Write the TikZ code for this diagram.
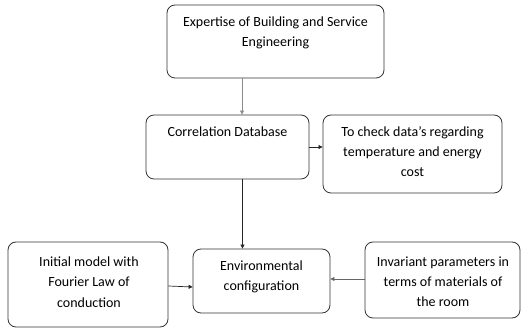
\documentclass[tikz,border=0pt]{standalone}
\usepackage{fontspec}
\setmainfont{Carlito}
\usetikzlibrary{arrows.meta}
\tikzset{
  box/.style={draw=black!80, line width=0.8pt, rounded corners=8pt, inner sep=0pt},
  txt/.style={align=center, anchor=north, inner sep=0pt, font=\fontsize{14}{20.3}\selectfont},
  conn/.style={draw=black!85, line width=0.7pt, -{Triangle[length=4pt,width=4pt]}},
}
\begin{document}
\begin{tikzpicture}[x=1pt,y=-1pt]
\useasboundingbox (0,0) rectangle (522,328);
% boxes
\node[box, minimum width=217pt, minimum height=73pt] (b1) at (275.5,41.5) {};
\node[box, minimum width=163pt, minimum height=64pt] (b2) at (227.5,147) {};
\node[box, minimum width=179pt, minimum height=78pt] (b3) at (412.5,154) {};
\node[box, minimum width=160pt, minimum height=85pt] (b4) at (88,284.5) {};
\node[box, minimum width=137pt, minimum height=64pt] (b5) at (261.5,281) {};
\node[box, minimum width=155pt, minimum height=76pt] (b6) at (442.5,280) {};
% texts
\node[txt] (t1) at (275.5,16.5) {Expertise of Building and Service\\Engineering};
\node[txt] (t2) at (227.5,126.5) {Correlation Database};
\node[txt] (t3) at (412.5,126) {To check data's regarding\\temperature and energy\\cost};
\node[txt] (t4) at (89,256.5) {Initial model with\\Fourier Law of\\conduction};
\node[txt] (t5) at (261.5,260.5) {Environmental\\configuration};
\node[txt] (t6) at (443,256.5) {Invariant parameters in\\terms of materials of\\the room};
% connectors
\draw[conn, draw=black!45] (b1.south -| 242,0) -- (b2.north -| 242,0);
\draw[conn] (b2.east |- 0,147) -- (b3.west |- 0,147);
\draw[conn] (b2.south -| 242.5,0) -- (b5.north -| 242.5,0);
\draw[conn] (b4.east |- 0,286) -- (b5.west |- 0,287);
\draw[conn, draw=black!60] (b6.west |- 0,279) -- (b5.east |- 0,279);
\end{tikzpicture}
\end{document}
